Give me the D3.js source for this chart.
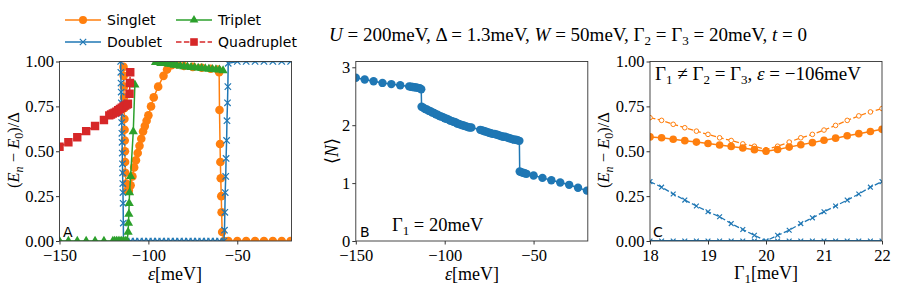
<!DOCTYPE html>
<html>
<head>
<meta charset="utf-8">
<script src="https://cdn.jsdelivr.net/npm/d3@7"></script>
<style>
body { margin: 0; background: #fff; }
text { font-family: "Liberation Serif", "Times New Roman", "DejaVu Serif", serif; fill: #000; }
text.tk { font-family: "Liberation Serif", "Times New Roman", "DejaVu Serif", serif !important; font-size: 16.5px; }
.sans { font-family: "DejaVu Sans", sans-serif; }
</style>
</head>
<body>
<svg id="chart" width="897" height="289"></svg>
<script>

// ---- panel A : (E_n - E_0)/Delta vs epsilon ----
var singletEps = [-114.0,-113.9,-113.8,-113.7,-113.6,-113.5,-113.4,-113.3,-113.2,-113.1,-113.0,-112.5,-112.0,-111.0,
	-110,-109,-108,-107,-106,-105,-104,-103,-102,-101,-100,-98.5,-97,-94.5,-91.5,-89.5,-87,-84,
	-80,-75,-70,-65,-61,-60.2,-60.0,-59.7,-59.5,-59.3,-59.0,-58.8,-58.5,-57.5,
	-55,-50,-45,-40,-35,-30,-25,-20];
var singletVal = [0.97,0.92,0.86,0.80,0.74,0.68,0.62,0.56,0.50,0.44,0.38,0.32,0.28,0.28,
	0.31,0.36,0.41,0.45,0.49,0.53,0.57,0.61,0.64,0.67,0.70,0.75,0.80,0.86,0.92,0.955,0.98,0.985,
	0.975,0.97,0.965,0.96,0.955,0.94,0.73,0.54,0.44,0.35,0.25,0.16,0.05,0,
	0,0,0,0,0,0,0,0];

var doubletEps = [-115.6,-115.5,-115.4,-115.3,-115.2,-115.1,-115.0,-114.9,-114.8,-114.7,-114.6,-114.5,-114.4,-114.3,-114.2,-114.1,-114.0,
	-112.5,-110,-107.5,-105,-102.5,-100,-97.5,-95,-92.5,-90,-87.5,-85,-82.5,-80,-77.5,-75,-72.5,-70,-67.5,-65,-62.5,-60,-57.5,
	-57.2,-57.0,-56.8,-56.5,-56.3,-56.0,-55.8,-55.5,-55.3,-55.1,
	-50,-45,-40,-35,-30,-25,-20];
var doubletVal = [1.0,0.94,0.88,0.83,0.77,0.71,0.66,0.60,0.55,0.49,0.43,0.38,0.32,0.27,0.21,0.10,0.0,
	0,0,0,0,0,0,0,0,0,0,0,0,0,0,0,0,0,0,0,0,0,0,0,
	0.06,0.16,0.27,0.36,0.46,0.56,0.67,0.77,0.86,0.99,
	1,1,1,1,1,1,1];

var tripletEps = [-150,-145,-140,-135,-130,-125,-120,-119,-118,-117,-116,-115,-114,-113,-112,
	-111.4,-111.2,-111.0,-110.8,-110.6,-110.0,-108.5,-107.6,
	-107.59,
	-96,-94.5,-93,-91.5,-90,-88.5,-87,-85.5,-84,
	-82,-80,-78,-76,-74,-72,-70,-68,-66,-64,-62,-60,-58];
var tripletVal = [0,0,0,0,0,0,0,0,0,0,0,0,0,0,0,
	0.05,0.10,0.15,0.21,0.27,0.36,0.61,0.87,
	null,
	0.995,0.995,0.99,0.99,0.99,0.985,0.985,0.98,0.98,
	0.975,0.972,0.97,0.968,0.966,0.964,0.962,0.96,0.958,0.956,0.955,0.953,0.95];

var quadEps = [-150,-145,-140,-135,-130,-125,-122,-121,-120,-119,-118,-117,-116,-115,-114,-113,-112,-111.5,
	-110.6,-110.4,-110.2];
var quadVal = [0.525,0.55,0.578,0.612,0.641,0.674,0.70,0.705,0.71,0.715,0.72,0.728,0.735,0.742,0.75,0.755,0.76,0.765,
	0.82,0.88,0.94];

// ---- panel B : <N> vs epsilon ----
var nEps = [-150,-145,-140,-135,-130,-125,-120,-119,-118,-117,-116,-115,-114,-113.2,
	-113,-112,-111,-110,-109,-108,-107,-106,-105,-104,-103,-102,-101,-100,-99,-98,-97,-96,-95,-94,-93,-92,-91,-90,-89,-88,-87,-86,-85,
	-80,-79,-78,-77,-76,-75,-74,-73,-72,-71,-70,-69,-68,-67,-66,-65,-64,-63,-62,-61,-60,-59,-58,
	-57.8,-57,-56,-55,-54,-50,-45,-40,-35,-30,-25,-20];
var nVal = [2.82,2.79,2.76,2.73,2.71,2.69,2.67,2.665,2.66,2.655,2.65,2.645,2.64,2.62,
	2.32,2.30,2.28,2.27,2.25,2.24,2.22,2.21,2.19,2.18,2.16,2.15,2.14,2.12,2.11,2.10,2.08,2.07,2.06,2.05,2.03,2.02,2.01,2.00,1.99,1.98,1.97,1.96,1.96,
	1.92,1.91,1.90,1.89,1.88,1.87,1.86,1.85,1.85,1.84,1.83,1.82,1.81,1.80,1.80,1.79,1.78,1.77,1.76,1.75,1.75,1.74,1.73,
	1.20,1.19,1.18,1.17,1.16,1.13,1.09,1.05,1.01,0.97,0.92,0.87];

// ---- panel C : (E_n - E_0)/Delta vs Gamma_1 ----
var gamma1 = [18.0,18.2,18.4,18.6,18.8,19.0,19.2,19.4,19.6,19.8,20.0,20.2,20.4,20.6,20.8,21.0,21.2,21.4,21.6,21.8,22.0];
var cSingletA = [0.58,0.575,0.567,0.559,0.551,0.543,0.535,0.527,0.518,0.509,0.50,0.51,0.523,0.536,0.548,0.561,0.573,0.586,0.598,0.610,0.622];
var cSingletB = [0.687,0.672,0.65,0.631,0.612,0.594,0.575,0.56,0.541,0.528,0.509,0.528,0.551,0.575,0.594,0.618,0.644,0.672,0.697,0.719,0.738];
var cDoubletA = [0,0,0,0,0,0,0,0,0,0,0,0,0,0,0,0,0,0,0,0,0];
var cDoubletB = [0.331,0.30,0.262,0.228,0.195,0.163,0.135,0.097,0.064,0.032,0.0,0.032,0.06,0.097,0.129,0.163,0.195,0.228,0.262,0.30,0.331];

var ticksE = [-150,-100,-50];
var ticksGap = [0,0.25,0.5,0.75,1.0];
var ticksN = [0,1,2,3];
var ticksG = [18,19,20,21,22];

var colors = {singlet:'#ff7f0e', doublet:'#1f77b4', triplet:'#2ca02c', quad:'#d62728'};
var serif = '"Liberation Serif", "Times New Roman", "DejaVu Serif", serif';

var svg = d3.select('#chart');

var top_ = 61.5, bottom_ = 241, pw = 232;

function zip(xs, ys){
	return xs.map(function(x,i){ return [x, ys[i]]; });
}

// Build one axes box
function makePanel(id, left, xDom, yDom, xTicks, yTicks, yFmt){
	var x = d3.scaleLinear().domain(xDom).range([left, left + pw]);
	var y = d3.scaleLinear().domain(yDom).range([bottom_, top_]);

	svg.append('clipPath').attr('id', 'clip' + id)
		.append('rect')
		.attr('x', left).attr('y', top_)
		.attr('width', pw).attr('height', bottom_ - top_);

	var xAxis = svg.append('g')
		.attr('transform', 'translate(0,' + bottom_ + ')')
		.call(d3.axisBottom(x).tickValues(xTicks).tickSize(3.5).tickPadding(4.5).tickSizeOuter(0).tickFormat(d3.format('d')));
	var yAxis = svg.append('g')
		.attr('transform', 'translate(' + left + ',0)')
		.call(d3.axisLeft(y).tickValues(yTicks).tickSize(3.5).tickPadding(2).tickSizeOuter(0).tickFormat(d3.format(yFmt)));

	[xAxis, yAxis].forEach(function(a){
		a.attr('font-family', null).attr('font-size', null);
		a.select('.domain').remove();
		a.selectAll('text').attr('class', 'tk');
		a.selectAll('line').attr('stroke', '#000').attr('stroke-width', 0.8);
	});
	xAxis.selectAll('text').attr('dy', '0.75em');

	var plot = svg.append('g').attr('clip-path', 'url(#clip' + id + ')');

	return {x: x, y: y, plot: plot, left: left};
}

function frame(p){
	svg.append('rect')
		.attr('x', p.left).attr('y', top_)
		.attr('width', pw).attr('height', bottom_ - top_)
		.attr('fill', 'none').attr('stroke', '#333').attr('stroke-width', 0.9);
}

function markerPath(kind, s){
	if (kind === 'x') {
		return 'M' + (-s) + ',' + (-s) + 'L' + s + ',' + s + 'M' + (-s) + ',' + s + 'L' + s + ',' + (-s);
	}
	if (kind === 'triangle') {
		return d3.symbol().type(d3.symbolTriangle).size(s * s * 1.9)();
	}
	if (kind === 'square') {
		return 'M' + (-s) + ',' + (-s) + 'h' + (2*s) + 'v' + (2*s) + 'h' + (-2*s) + 'Z';
	}
	return d3.symbol().type(d3.symbolCircle).size(Math.PI * s * s)();
}

function series(p, pts, o){
	var line = d3.line()
		.defined(function(d){ return d[1] !== null; })
		.x(function(d){ return p.x(d[0]); })
		.y(function(d){ return p.y(d[1]); });

	p.plot.append('path')
		.datum(pts)
		.attr('d', line)
		.attr('fill', 'none')
		.attr('stroke', o.color)
		.attr('stroke-width', o.lw || 1.5)
		.attr('stroke-dasharray', o.dash || null);

	var g = p.plot.append('g');
	g.selectAll('path')
		.data(pts.filter(function(d){ return d[1] !== null; }))
		.enter().append('path')
		.attr('transform', function(d){ return 'translate(' + p.x(d[0]) + ',' + p.y(d[1]) + ')'; })
		.attr('d', markerPath(o.marker, o.size))
		.attr('fill', o.marker === 'x' ? 'none' : (o.hollow ? '#fff' : o.color))
		.attr('stroke', o.color)
		.attr('stroke-width', o.marker === 'x' ? 1.2 : (o.hollow ? 1 : 0));
}

// helper for math-ish labels: parts = [[text, style]]  style: 'i' italic, 's' subscript, 'si' italic subscript
function richText(sel, parts, size){
	var sub = Math.round(size * 0.7);
	var shifted = false;
	sel.style('font-family', serif);
	parts.forEach(function(p){
		var t = sel.append('tspan').text(p[0]);
		var st = p[1] || '';
		if (st.indexOf('i') >= 0) t.style('font-style', 'italic');
		if (st.indexOf('s') >= 0) {
			t.style('font-size', sub + 'px').attr('dy', shifted ? 0 : size * 0.22);
			shifted = true;
		} else if (shifted) {
			t.attr('dy', -size * 0.22);
			shifted = false;
		}
	});
	return sel;
}

var gapLabel = [['('], ['E','i'], ['n','si'], [' \u2212 '], ['E','i'], ['0','s'], [')/\u0394']];

// ---------------- Panel A ----------------
var pA = makePanel('A', 59.5, [-150, -19.5], [0, 1], ticksE, ticksGap, '.2f');
series(pA, zip(singletEps, singletVal), {color: colors.singlet, marker: 'circle', size: 4.3});
series(pA, zip(doubletEps, doubletVal), {color: colors.doublet, marker: 'x', size: 3.2});
series(pA, zip(tripletEps, tripletVal), {color: colors.triplet, marker: 'triangle', size: 4.4});
series(pA, zip(quadEps, quadVal), {color: colors.quad, marker: 'square', size: 4.2, dash: '5.5,2.4'});
frame(pA);

// ---------------- Panel B ----------------
var pB = makePanel('B', 355.8, [-150, -19.5], [0, 3.1], ticksE, ticksN, 'd');
series(pB, zip(nEps, nVal), {color: colors.doublet, marker: 'circle', size: 4.2});
frame(pB);

// ---------------- Panel C ----------------
var pC = makePanel('C', 650, [18, 22], [0, 1], ticksG, ticksGap, '.2f');
series(pC, zip(gamma1, cSingletB), {color: colors.singlet, marker: 'circle', size: 2.3, hollow: true, dash: '5.5,2.4', lw: 1.3});
series(pC, zip(gamma1, cDoubletB), {color: colors.doublet, marker: 'x', size: 2.4, dash: '5.5,2.4', lw: 1.3});
series(pC, zip(gamma1, cSingletA), {color: colors.singlet, marker: 'circle', size: 3.8, lw: 1.5});
series(pC, zip(gamma1, cDoubletA), {color: colors.doublet, marker: 'x', size: 2.4, lw: 2});
frame(pC);

// ---------------- labels ----------------
richText(svg.append('text').attr('transform', 'translate(19,150) rotate(-90)').attr('text-anchor', 'middle').style('font-size', '16.5px'), gapLabel, 16.5);
richText(svg.append('text').attr('transform', 'translate(609,150) rotate(-90)').attr('text-anchor', 'middle').style('font-size', '16.5px'), gapLabel, 16.5);
richText(svg.append('text').attr('transform', 'translate(338,151) rotate(-90)').attr('text-anchor', 'middle').style('font-size', '18px'),
	[['\u27E8'], ['N','i'], ['\u27E9']], 18);

richText(svg.append('text').attr('x', 175).attr('y', 280).attr('text-anchor', 'middle').style('font-size', '18px'), [['\u03B5','i'], ['[meV]']], 18);
richText(svg.append('text').attr('x', 472).attr('y', 280).attr('text-anchor', 'middle').style('font-size', '18px'), [['\u03B5','i'], ['[meV]']], 18);
richText(svg.append('text').attr('x', 766).attr('y', 279).attr('text-anchor', 'middle').style('font-size', '18px'), [['\u0393'], ['1','s'], ['[meV]']], 18);

richText(svg.append('text').attr('x', 568).attr('y', 41).attr('text-anchor', 'middle').style('font-size', '19px'),
	[['U','i'], [' = 200meV, \u0394 = 1.3meV, '], ['W','i'], [' = 50meV, \u0393'], ['2','s'], [' = \u0393'], ['3','s'], [' = 20meV, '], ['t','i'], [' = 0']], 19);

richText(svg.append('text').attr('x', 655).attr('y', 80).style('font-size', '19px'),
	[['\u0393'], ['1','s'], [' \u2260 \u0393'], ['2','s'], [' = \u0393'], ['3','s'], [', '], ['\u03B5','i'], [' = \u2212106meV']], 19);
richText(svg.append('text').attr('x', 392).attr('y', 231).style('font-size', '18.5px'), [['\u0393'], ['1','s'], [' = 20meV']], 18.5);

[['A', 63], ['B', 360], ['C', 653]].forEach(function(d){
	svg.append('text').attr('class', 'sans').attr('x', d[1]).attr('y', 237).style('font-size', '14px').text(d[0]);
});

// ---------------- legend ----------------
var legendItems = [
	{name: 'Singlet', color: colors.singlet, marker: 'circle', size: 4, col: 0, row: 0},
	{name: 'Doublet', color: colors.doublet, marker: 'x', size: 3.2, col: 0, row: 1},
	{name: 'Triplet', color: colors.triplet, marker: 'triangle', size: 4.2, col: 1, row: 0},
	{name: 'Quadruplet', color: colors.quad, marker: 'square', size: 3.8, col: 1, row: 1, dash: '5.5,2.4'}
];
var legend = svg.append('g').attr('class', 'legend');
legendItems.forEach(function(d){
	var lx = d.col === 0 ? 65 : 176;
	var ly = d.row === 0 ? 20 : 42;
	legend.append('line')
		.attr('x1', lx).attr('x2', lx + 36).attr('y1', ly).attr('y2', ly)
		.attr('stroke', d.color).attr('stroke-width', 1.5)
		.attr('stroke-dasharray', d.dash || null);
	legend.append('path')
		.attr('transform', 'translate(' + (lx + 18) + ',' + ly + ')')
		.attr('d', markerPath(d.marker, d.size))
		.attr('fill', d.marker === 'x' ? 'none' : d.color)
		.attr('stroke', d.color)
		.attr('stroke-width', d.marker === 'x' ? 1.2 : 0);
	legend.append('text').attr('class', 'sans')
		.attr('x', lx + 42).attr('y', ly + 5)
		.style('font-size', '14px')
		.text(d.name);
});

</script>
</body>
</html>
